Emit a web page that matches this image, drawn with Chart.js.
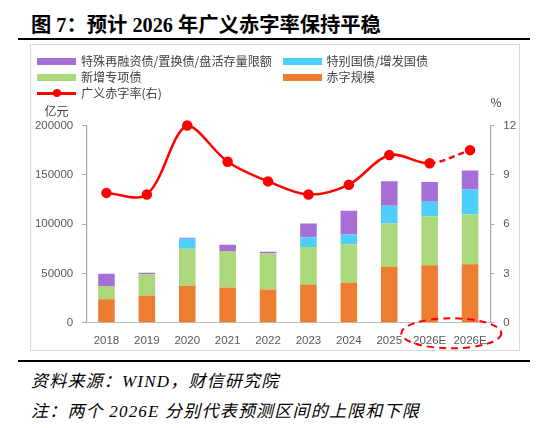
<!DOCTYPE html>
<html>
<head>
<meta charset="utf-8">
<script src="https://cdn.jsdelivr.net/npm/chart.js@4.4.1/dist/chart.umd.min.js"></script>
<style>
  html, body { margin: 0; padding: 0; background: #fff; }
  body { width: 550px; height: 428px; position: relative; overflow: hidden; }
  .title {
    position: absolute; left: 31px; top: 7.5px;
    font: bold 20.3px "Liberation Serif", "Noto Sans CJK SC", serif;
    color: #000; white-space: nowrap;
  }
  .rule { position: absolute; left: 18px; width: 512px; height: 2px; background: #000; }
  .box {
    position: absolute; left: 29.5px; top: 43.5px; width: 488px; height: 305.5px;
    border: 1px solid #d9d9d9;
  }
  .chart-wrap { position: absolute; left: 0; top: 0; width: 488px; height: 305.5px; }
  .lg { position: absolute; font: 12.1px "Noto Sans CJK SC", sans-serif; color: #404040; white-space: nowrap; }
  .sw { position: absolute; height: 7px; width: 39px; }
  .unit { position: absolute; font: 12px "Noto Sans CJK SC", sans-serif; color: #404040; }
  .foot {
    position: absolute; left: 31px; font: italic 17px "Liberation Serif", "Noto Sans CJK SC", serif;
    color: #000; white-space: nowrap; letter-spacing: 1.2px;
  }
</style>
</head>
<body>
<div class="title">图 7：预计 2026 年广义赤字率保持平稳</div>
<div class="rule" style="top:37.5px"></div>
<div class="box">
  <div class="chart-wrap"><canvas id="myChart"></canvas></div>
</div>
<div class="rule" style="top:359.5px"></div>
<div class="foot" style="top:367px">资料来源：WIND，财信研究院</div>
<div class="foot" style="top:397px">注：两个 2026E 分别代表预测区间的上限和下限</div>

<script>
// chart values
const years = ["2018", "2019", "2020", "2021", "2022", "2023", "2024", "2025", "2026E", "2026E"];
const deficit = [23800, 27600, 37600, 35700, 33700, 38800, 40600, 56600, 58400, 59400];
const specialBonds = [13500, 21500, 37500, 36500, 36500, 38000, 39000, 44000, 49400, 50400];
const treasuryBonds = [0, 0, 10000, 0, 0, 10000, 10000, 18000, 15000, 25300];
const refinanceBonds = [12500, 1600, 1000, 7000, 1800, 13900, 24000, 25000, 20000, 19400];
const deficitRate = [7.9, 7.8, 12.0, 9.8, 8.6, 7.8, 8.4, 10.2, 9.7, 10.5];
const leftTicks = [0, 50000, 100000, 150000, 200000];
const rightTicks = [0, 3, 6, 9, 12];

const names = {
  refinance: "特殊再融资债/置换债/盘活存量限额",
  treasury: "特别国债/增发国债",
  special: "新增专项债",
  deficit: "赤字规模",
  rate: "广义赤字率(右)",
};
const colors = {
  refinance: "#a66fd5",
  treasury: "#4dcefb",
  special: "#abd87a",
  deficit: "#ed7d31",
  rate: "#ff0000",
};

const box = document.querySelector(".box");
const ctx = document.getElementById("myChart");

// html legend, two columns like the original
const addLegend = (x, y, key, isLine) => {
  if (isLine) {
    const l = document.createElement("div");
    l.className = "sw";
    l.style.cssText = `left:${x - 30.5}px;top:${y - 44.5 - 1}px;height:2.5px;background:${colors[key]}`;
    box.appendChild(l);
    const d = document.createElement("div");
    d.style.cssText = `position:absolute;left:${x - 30.5 + 16}px;top:${y - 44.5 - 4}px;width:8px;height:8px;border-radius:50%;background:${colors[key]}`;
    box.appendChild(d);
  } else {
    const s = document.createElement("div");
    s.className = "sw";
    s.style.cssText = `left:${x - 30.5}px;top:${y - 44.5 - 3.5}px;background:${colors[key]}`;
    box.appendChild(s);
  }
  const t = document.createElement("div");
  t.className = "lg";
  t.textContent = names[key];
  t.style.left = x - 30.5 + 44 + "px";
  t.style.top = y - 44.5 - 9 + "px";
  box.appendChild(t);
};
addLegend(37, 61, "refinance");
addLegend(282.5, 61, "treasury");
addLegend(37, 77, "special");
addLegend(282.5, 77, "deficit");
addLegend(37, 93, "rate", true);

const u1 = document.createElement("div");
u1.className = "unit";
u1.textContent = "亿元";
u1.style.cssText = "left:14px;top:57px";
box.appendChild(u1);
const u2 = document.createElement("div");
u2.className = "unit";
u2.textContent = "%";
u2.style.cssText = "left:460px;top:48px";
box.appendChild(u2);

// dashed ellipse round the two forecast labels
const ellipse = {
  id: "ellipse",
  afterDraw: (chart) => {
    const x = chart.scales.x;
    const y = chart.scales.y;
    const cx = (x.getPixelForValue(8) + x.getPixelForValue(9)) / 2 + 1.5;
    const cy = y.getPixelForValue(0) + 10.5;
    const c = chart.ctx;
    c.save();
    c.strokeStyle = colors.rate;
    c.lineWidth = 2;
    c.setLineDash([7, 5]);
    c.beginPath();
    c.ellipse(cx, cy, 50, 15, 0, 0, Math.PI * 2);
    c.stroke();
    c.restore();
  },
};

const tickFont = { family: "'Liberation Sans', sans-serif", size: 11.5 };
const bar = (key, data) => ({
  type: "bar",
  label: names[key],
  data: data,
  backgroundColor: colors[key],
  yAxisID: "y",
  order: 1,
  barPercentage: 0.41,
  categoryPercentage: 1,
});

new Chart(ctx, {
  data: {
    labels: years,
    datasets: [
      {
        type: "line",
        label: names.rate,
        data: deficitRate,
        yAxisID: "y1",
        borderColor: colors.rate,
        backgroundColor: colors.rate,
        borderWidth: 2.5,
        pointRadius: 4,
        pointHoverRadius: 4,
        tension: 0.33,
        clip: false,
        order: 0,
        segment: {
          borderDash: (c) => (c.p1DataIndex === 9 ? [6, 4] : undefined),
        },
      },
      bar("deficit", deficit),
      bar("special", specialBonds),
      bar("treasury", treasuryBonds),
      bar("refinance", refinanceBonds),
    ],
  },
  options: {
    responsive: true,
    maintainAspectRatio: false,
    animation: false,
    layout: { padding: { top: 80.5, left: 0, right: 0, bottom: 0 } },
    plugins: {
      legend: { display: false },
      tooltip: { enabled: false },
    },
    scales: {
      x: {
        stacked: true,
        grid: { display: false, drawTicks: false },
        border: { color: "#bfbfbf", width: 1 },
        ticks: { color: "#595959", font: tickFont, padding: 11, maxRotation: 0, autoSkip: false },
        afterFit: (s) => { s.height = 27.7; },
      },
      y: {
        stacked: true,
        position: "left",
        min: 0,
        max: 200000,
        afterBuildTicks: (s) => { s.ticks = leftTicks.map((v) => ({ value: v })); },
        grid: { drawOnChartArea: false, tickLength: 4, color: "#a6a6a6" },
        border: { color: "#a6a6a6", width: 1.2 },
        ticks: { color: "#595959", font: tickFont, padding: 9, callback: (v) => String(v) },
        afterFit: (s) => { s.width = 55.25; },
      },
      y1: {
        position: "right",
        min: 0,
        max: 12,
        afterBuildTicks: (s) => { s.ticks = rightTicks.map((v) => ({ value: v })); },
        grid: { drawOnChartArea: false, tickLength: 4, color: "#a6a6a6" },
        border: { color: "#a6a6a6", width: 1.2 },
        ticks: { color: "#595959", font: tickFont, padding: 9, callback: (v) => String(v) },
        afterFit: (s) => { s.width = 28.75; },
      },
    },
  },
  plugins: [ellipse],
});
</script>
</body>
</html>
